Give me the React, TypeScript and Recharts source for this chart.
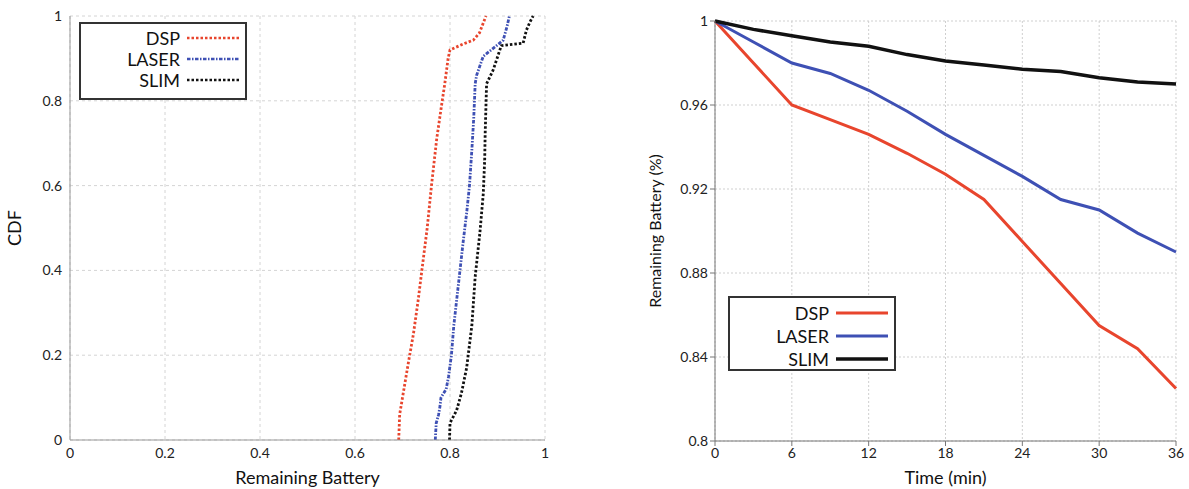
import React from 'react';
import { LineChart, Line, XAxis, YAxis, CartesianGrid } from 'recharts';

// left panel: CDF of remaining battery
const cdfTicks = [0, 0.2, 0.4, 0.6, 0.8, 1];
const dspCdf = [
  [0.692, 0], [0.694, 0.06], [0.7, 0.1], [0.712, 0.18], [0.723, 0.25], [0.733, 0.33], [0.743, 0.42],
  [0.752, 0.5], [0.761, 0.6], [0.768, 0.67], [0.772, 0.71], [0.781, 0.78], [0.789, 0.84], [0.796, 0.9],
  [0.8, 0.92], [0.83, 0.935], [0.849, 0.943], [0.862, 0.96], [0.874, 0.995], [0.876, 1],
];
const laserCdf = [
  [0.769, 0], [0.771, 0.04], [0.776, 0.06], [0.779, 0.08], [0.781, 0.1], [0.792, 0.12], [0.797, 0.15],
  [0.803, 0.2], [0.808, 0.27], [0.814, 0.33], [0.821, 0.4], [0.828, 0.47], [0.835, 0.535], [0.841, 0.6],
  [0.846, 0.684], [0.85, 0.76], [0.853, 0.84], [0.856, 0.86], [0.87, 0.905], [0.898, 0.93],
  [0.912, 0.943], [0.92, 0.975], [0.925, 1],
];
const slimCdf = [
  [0.799, 0], [0.8, 0.04], [0.814, 0.07], [0.824, 0.11], [0.835, 0.17], [0.846, 0.27], [0.853, 0.385],
  [0.863, 0.49], [0.87, 0.58], [0.873, 0.66], [0.874, 0.72], [0.877, 0.84], [0.891, 0.873], [0.905, 0.92],
  [0.908, 0.93], [0.954, 0.936], [0.961, 0.967], [0.968, 0.985], [0.975, 1],
];

// right panel: remaining battery over time
const minutes = [0, 3, 6, 9, 12, 15, 18, 21, 24, 27, 30, 33, 36];
const timeTicks = [0, 6, 12, 18, 24, 30, 36];
const batteryTicks = [0.8, 0.84, 0.88, 0.92, 0.96, 1];
const dspBattery = [1, 0.98, 0.96, 0.953, 0.946, 0.937, 0.927, 0.915, 0.895, 0.875, 0.855, 0.844, 0.825];
const laserBattery = [1, 0.99, 0.98, 0.975, 0.967, 0.957, 0.946, 0.936, 0.926, 0.915, 0.91, 0.899, 0.89];
const slimBattery = [1, 0.996, 0.993, 0.99, 0.988, 0.984, 0.981, 0.979, 0.977, 0.976, 0.973, 0.971, 0.97];

const font = 'Lato, "Open Sans", sans-serif';
const RED = '#e8452d';
const BLUE = '#3e50b4';
const BLACK = '#111';
const DOTS = '2.5 2';
const DASHDOT = '3.5 1.5 1.5 1.5';

const toPts = (arr: number[][]) => arr.map(([x, y]) => ({ x, y }));
const timeRows = minutes.map((t, i) => ({
  t,
  DSP: dspBattery[i],
  LASER: laserBattery[i],
  SLIM: slimBattery[i],
}));

const tickStyle = { fontSize: 14, fill: '#222', fontFamily: font };
const labelStyle = { fontSize: 18, fill: '#111', fontFamily: font };

type Entry = { name: string; color: string; dash?: string; width: number };

const LegendBox = ({ entries, style, rowH }: { entries: Entry[]; style: React.CSSProperties; rowH: number }) => (
  <div
    style={{
      position: 'absolute',
      border: '2px solid #333',
      background: '#fff',
      boxSizing: 'border-box',
      fontFamily: font,
      fontSize: 18,
      color: '#111',
      padding: '3px 0',
      ...style,
    }}
  >
    {entries.map(e => (
      <div key={e.name} style={{ display: 'flex', alignItems: 'center', height: rowH, justifyContent: 'flex-end', paddingRight: 6 }}>
        <span style={{ marginRight: 7 }}>{e.name}</span>
        <svg width={52} height={6}>
          <line x1={0} y1={3} x2={52} y2={3} stroke={e.color} strokeWidth={e.width} strokeDasharray={e.dash} />
        </svg>
      </div>
    ))}
  </div>
);

const leftEntries: Entry[] = [
  { name: 'DSP', color: RED, dash: DOTS, width: 2.5 },
  { name: 'LASER', color: BLUE, dash: DASHDOT, width: 2.5 },
  { name: 'SLIM', color: BLACK, dash: DOTS, width: 2.5 },
];
const rightEntries: Entry[] = [
  { name: 'DSP', color: RED, width: 3 },
  { name: 'LASER', color: BLUE, width: 3 },
  { name: 'SLIM', color: BLACK, width: 3.5 },
];

export default function App() {
  return (
    <div style={{ position: 'absolute', left: 0, top: 0, width: 1189, height: 489, background: '#fff', overflow: 'hidden' }}>
      <div style={{ position: 'absolute', left: 0, top: 0 }}>
        <LineChart width={560} height={489} margin={{ top: 16, right: 15, left: 0, bottom: 4 }}>
          <CartesianGrid stroke="#d4d4d4" strokeDasharray="3 3" />
          <XAxis
            type="number"
            dataKey="x"
            domain={[0, 1]}
            ticks={cdfTicks}
            allowDataOverflow
            height={45}
            tick={tickStyle}
            tickLine={false}
            stroke="#999"
            label={{ value: 'Remaining Battery', position: 'insideBottom', offset: 1, style: labelStyle }}
          />
          <XAxis xAxisId="top" orientation="top" type="number" domain={[0, 1]} ticks={cdfTicks} height={0} tick={false} tickSize={5} mirror stroke="#999" />
          <YAxis
            type="number"
            dataKey="y"
            domain={[0, 1]}
            ticks={cdfTicks}
            width={70}
            tick={tickStyle}
            tickLine={false}
            stroke="#999"
            label={{ value: 'CDF', angle: -90, position: 'insideLeft', offset: 15, style: { ...labelStyle, textAnchor: 'middle' } }}
          />
          <YAxis yAxisId="right" orientation="right" type="number" domain={[0, 1]} ticks={cdfTicks} width={0} tick={false} tickSize={5} mirror stroke="#999" />
          <Line data={toPts(dspCdf)} dataKey="y" stroke={RED} strokeWidth={2.8} strokeDasharray={DOTS} dot={false} isAnimationActive={false} />
          <Line data={toPts(laserCdf)} dataKey="y" stroke={BLUE} strokeWidth={2.8} strokeDasharray={DASHDOT} dot={false} isAnimationActive={false} />
          <Line data={toPts(slimCdf)} dataKey="y" stroke={BLACK} strokeWidth={2.8} strokeDasharray={DOTS} dot={false} isAnimationActive={false} />
        </LineChart>
      </div>
      <LegendBox entries={leftEntries} rowH={21} style={{ left: 79, top: 22, width: 168, height: 78 }} />

      <div style={{ position: 'absolute', left: 600, top: 0 }}>
        <LineChart width={589} height={489} data={timeRows} margin={{ top: 21, right: 13, left: 40, bottom: 4 }}>
          <CartesianGrid stroke="#cfcfcf" strokeDasharray="2 2" />
          <XAxis
            type="number"
            dataKey="t"
            domain={[0, 36]}
            ticks={timeTicks}
            height={44}
            tick={tickStyle}
            tickSize={5}
            stroke="#777"
            label={{ value: 'Time (min)', position: 'insideBottom', offset: 1, style: labelStyle }}
          />
          <XAxis xAxisId="top" orientation="top" type="number" domain={[0, 36]} ticks={timeTicks} height={0} tick={false} tickSize={5} mirror stroke="#999" />
          <YAxis
            type="number"
            domain={[0.8, 1]}
            ticks={batteryTicks}
            width={75}
            tick={tickStyle}
            tickSize={5}
            stroke="#777"
            label={{ value: 'Remaining Battery (%)', angle: -90, position: 'insideLeft', offset: 15, style: { ...labelStyle, fontSize: 16, textAnchor: 'middle' } }}
          />
          <YAxis yAxisId="right" orientation="right" type="number" domain={[0.8, 1]} ticks={batteryTicks} width={0} tick={false} tickSize={5} mirror stroke="#999" />
          <Line dataKey="DSP" stroke={RED} strokeWidth={3} dot={false} isAnimationActive={false} />
          <Line dataKey="LASER" stroke={BLUE} strokeWidth={3} dot={false} isAnimationActive={false} />
          <Line dataKey="SLIM" stroke={BLACK} strokeWidth={3.5} dot={false} isAnimationActive={false} />
        </LineChart>
      </div>
      <LegendBox entries={rightEntries} rowH={23} style={{ left: 728, top: 296, width: 168, height: 75 }} />
    </div>
  );
}
